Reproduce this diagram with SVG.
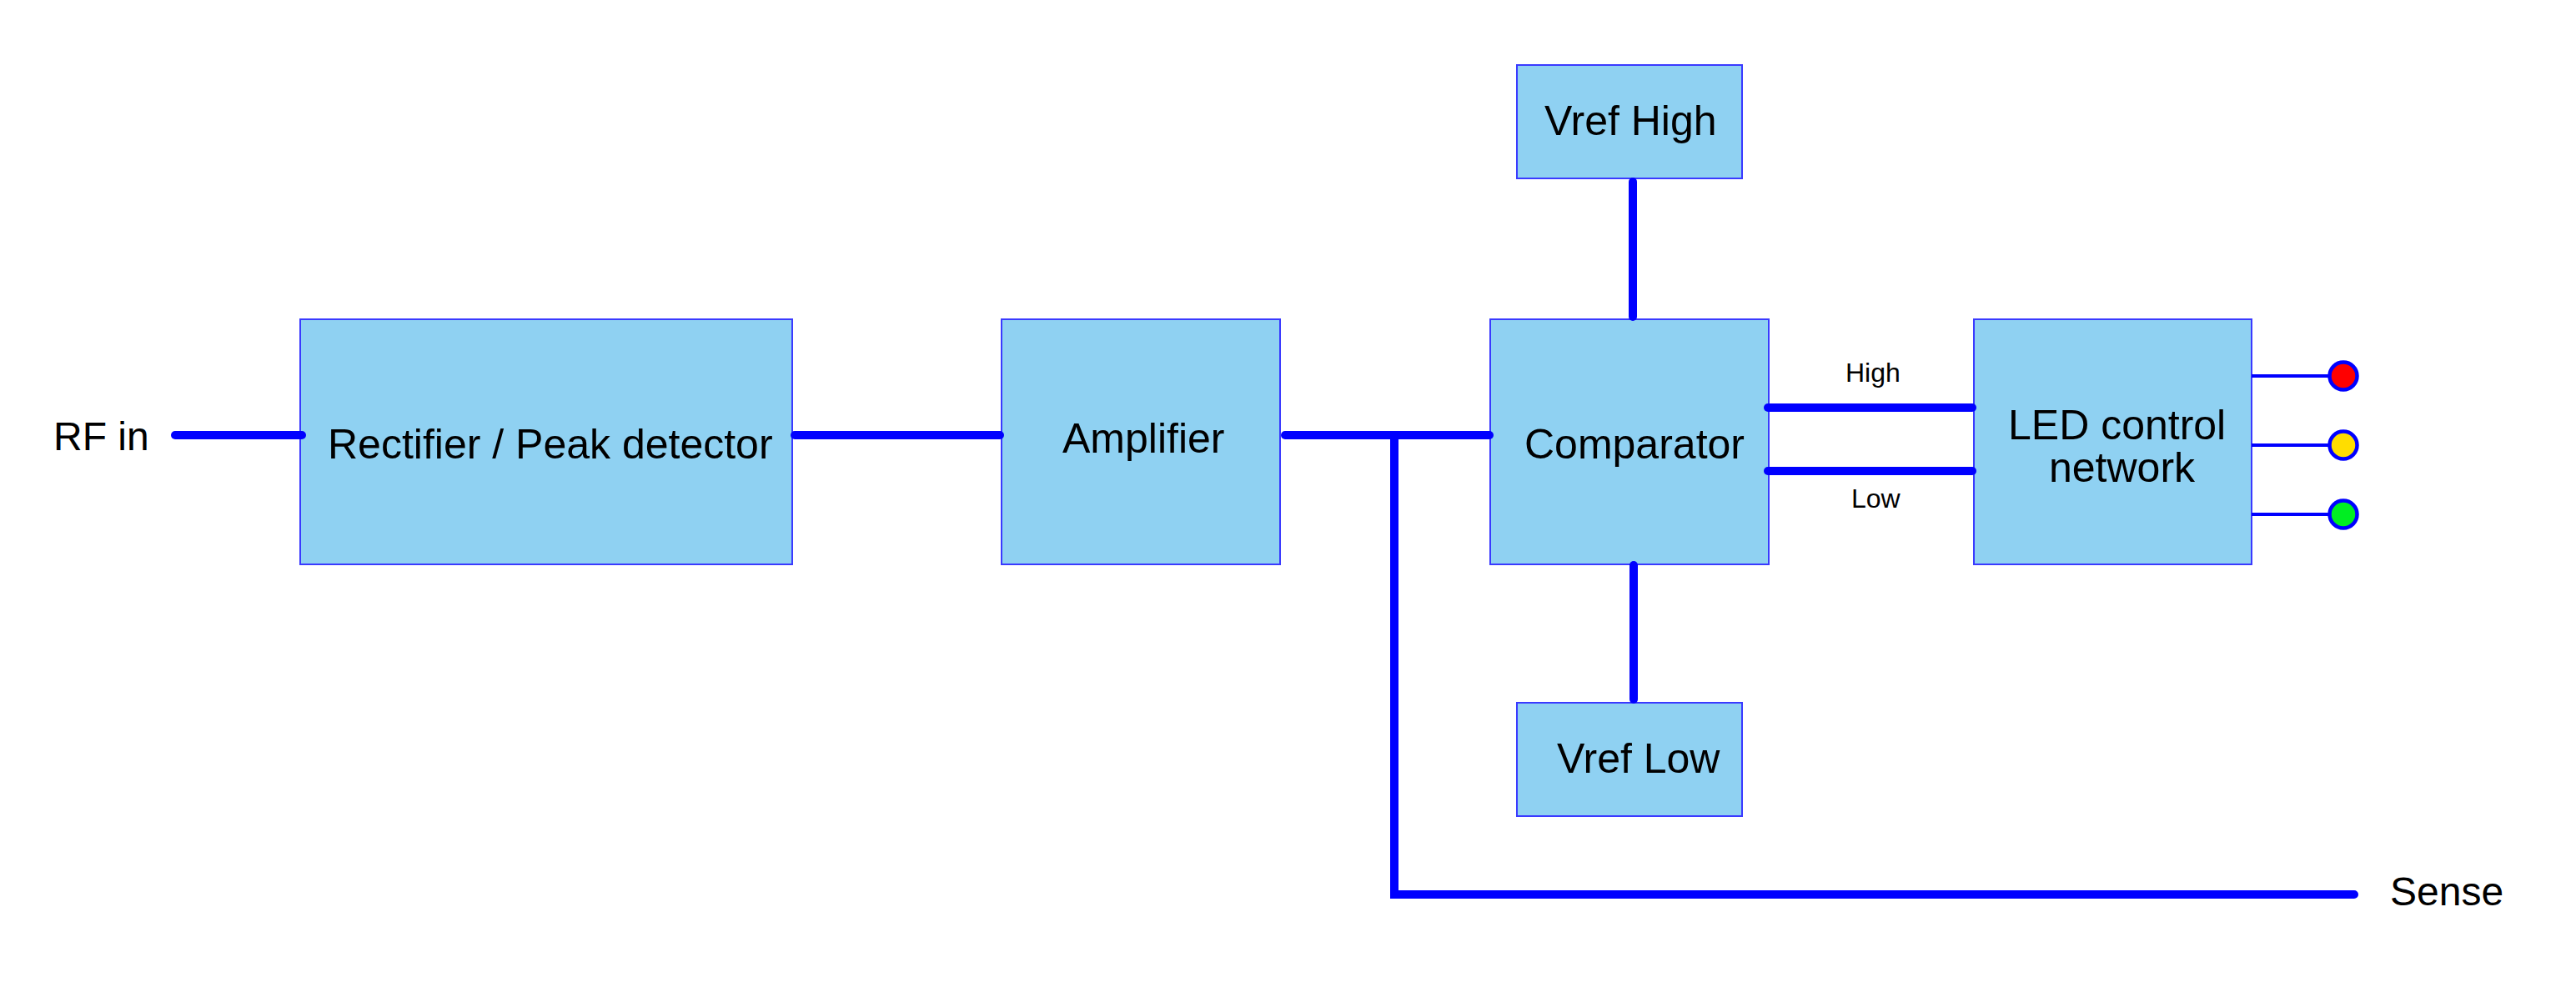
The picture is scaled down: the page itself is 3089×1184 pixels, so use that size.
<svg xmlns="http://www.w3.org/2000/svg" width="3089" height="1184" viewBox="0 0 3089 1184">
  <style>
    .box { fill: #8fd1f2; stroke: #3a3aff; stroke-width: 2; }
    .lbl { font-family: "Liberation Sans", Arial, sans-serif; font-size: 50px; fill: #000000; }
    .small { font-family: "Liberation Sans", Arial, sans-serif; font-size: 32px; fill: #000000; }
    .wire { fill: none; stroke: #0000ff; stroke-width: 10; stroke-linecap: round; stroke-linejoin: miter; }
    .thin { fill: none; stroke: #0000ff; stroke-width: 4; }
    .led { stroke: #0000ff; stroke-width: 4.5; }
  </style>
  <rect width="3089" height="1184" fill="#ffffff"/>

  <g id="rf-in">
    <text class="lbl" x="64" y="540" style="font-size:48px">RF in</text>
  </g>

  <g id="rectifier">
    <rect class="box" x="360" y="383" width="590" height="294"/>
    <text class="lbl" x="393" y="550">Rectifier / Peak detector</text>
  </g>

  <g id="amplifier">
    <rect class="box" x="1201" y="383" width="334" height="294"/>
    <text class="lbl" x="1274" y="543">Amplifier</text>
  </g>

  <g id="comparator">
    <rect class="box" x="1787" y="383" width="334" height="294"/>
    <text class="lbl" x="1828" y="550">Comparator</text>
  </g>

  <g id="vref-high">
    <rect class="box" x="1819" y="78" width="270" height="136"/>
    <text class="lbl" x="1852" y="162">Vref High</text>
  </g>

  <g id="vref-low">
    <rect class="box" x="1819" y="843" width="270" height="136"/>
    <text class="lbl" x="1867" y="927">Vref Low</text>
  </g>

  <g id="led-control">
    <rect class="box" x="2367" y="383" width="333" height="294"/>
    <text class="lbl" x="2408" y="527">LED control</text>
    <text class="lbl" x="2457" y="578">network</text>
  </g>

  <g id="label-high">
    <text class="small" x="2213" y="458">High</text>
  </g>
  <g id="label-low">
    <text class="small" x="2220" y="609">Low</text>
  </g>

  <g id="sense">
    <text class="lbl" x="2866" y="1086" style="font-size:48px">Sense</text>
  </g>

  <g id="connectors">
    <line class="wire" x1="210" y1="522" x2="362" y2="522"/>
    <line class="wire" x1="953" y1="522" x2="1199" y2="522"/>
    <line class="wire" x1="1541" y1="522" x2="1786" y2="522"/>
    <path class="wire" d="M1672 522 V1073 H2823"/>
    <line class="wire" x1="1958" y1="218" x2="1958" y2="380"/>
    <line class="wire" x1="1959" y1="678" x2="1959" y2="839"/>
    <line class="wire" x1="2120" y1="489" x2="2365" y2="489"/>
    <line class="wire" x1="2120" y1="565" x2="2365" y2="565"/>
    <line class="thin" x1="2700" y1="451" x2="2794" y2="451"/>
    <line class="thin" x1="2700" y1="534" x2="2794" y2="534"/>
    <line class="thin" x1="2700" y1="617" x2="2794" y2="617"/>
  </g>

  <g id="led-red">
    <circle class="led" cx="2810" cy="451" r="16.5" fill="#ff0000"/>
  </g>
  <g id="led-yellow">
    <circle class="led" cx="2810" cy="534" r="16.5" fill="#ffdd00"/>
  </g>
  <g id="led-green">
    <circle class="led" cx="2810" cy="617" r="16.5" fill="#00ee22"/>
  </g>
</svg>
